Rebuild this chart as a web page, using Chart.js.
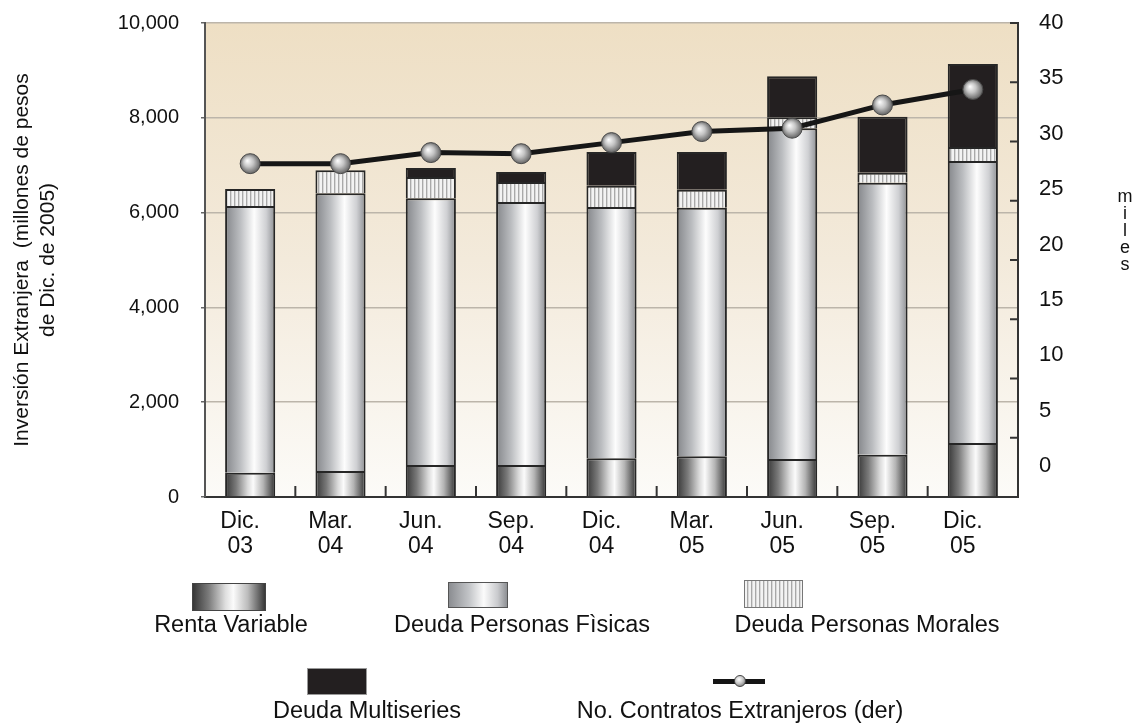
<!DOCTYPE html>
<html lang="es">
<head>
<meta charset="utf-8">
<title>Inversión Extranjera</title>
<script src="https://cdn.jsdelivr.net/npm/chart.js@4.4.1/dist/chart.umd.min.js"></script>
<style>
  html, body { margin: 0; padding: 0; background: #ffffff; }
  #wrap { position: relative; width: 1140px; height: 726px; overflow: hidden;
          font-family: 'Liberation Sans', Arial, sans-serif; color: #111; }
  #chart { position: absolute; left: 0; top: 0; }
  .sw { position: absolute; box-sizing: border-box; }
  .lbl { position: absolute; white-space: nowrap; font-size: 23.5px; line-height: 1;
         transform: translateX(-50%); }
  #miles { position: absolute; left: 1113px; top: 188px; width: 24px; text-align: center;
           font-size: 18px; line-height: 17px; }
</style>
</head>
<body>
<div id="wrap">
  <canvas id="chart" width="1140" height="726"></canvas>

  <!-- leyenda -->
  <div class="sw" style="left:192px;top:583px;width:74px;height:28px;border:1px solid #444;
       background:linear-gradient(to right,#363636 0%,#7c7c7c 22%,#dedede 45%,#fbfbfb 56%,#bcbcbc 76%,#383838 100%);"></div>
  <div class="lbl" style="left:231px;top:613px;">Renta Variable</div>

  <div class="sw" style="left:448px;top:582px;width:60px;height:26px;border:1px solid #555;
       background:linear-gradient(to right,#8b8d91 0%,#c3c5c8 35%,#fbfbfb 60%,#c9cacd 84%,#8e9094 100%);"></div>
  <div class="lbl" style="left:522px;top:613px;">Deuda Personas Fìsicas</div>

  <div class="sw" style="left:744px;top:580px;width:59px;height:28px;border:1px solid #777;
       background:repeating-linear-gradient(to right,#f3f3f3 0 2px,#a8a8a8 2px 3px,#d9d9d9 3px 4px);"></div>
  <div class="lbl" style="left:867px;top:613px;">Deuda Personas Morales</div>

  <div class="sw" style="left:307px;top:668px;width:60px;height:27px;border:1px solid #999;background:#231f20;"></div>
  <div class="lbl" style="left:367px;top:699px;">Deuda Multiseries</div>

  <div class="sw" style="left:713px;top:679px;width:52px;height:5px;background:#151515;"></div>
  <div class="sw" style="left:734px;top:675px;width:12px;height:12px;border-radius:50%;border:1px solid #444;
       background:radial-gradient(circle at 40% 35%,#ffffff 0%,#c6c6c6 45%,#5c5c5c 100%);"></div>
  <div class="lbl" style="left:740px;top:699px;">No. Contratos Extranjeros (der)</div>

  <div id="miles">m<br>i<br>l<br>e<br>s</div>
</div>

<script>
// Periodos trimestrales
const categories = [
  ['Dic.', '03'], ['Mar.', '04'], ['Jun.', '04'], ['Sep.', '04'], ['Dic.', '04'],
  ['Mar.', '05'], ['Jun.', '05'], ['Sep.', '05'], ['Dic.', '05']
];

// Inversión extranjera por instrumento (millones de pesos de Dic. de 2005)
const rentaVariable    = [510, 550, 675, 675, 820, 860, 800, 890, 1140];
const deudaFisicas     = [5630, 5860, 5630, 5550, 5300, 5240, 6980, 5740, 5950];
const deudaMorales     = [360, 485, 445, 420, 445, 380, 230, 210, 295];
const deudaMultiseries = [0, 0, 190, 210, 715, 800, 865, 1180, 1750];

// Número de contratos de extranjeros (miles, eje derecho)
const contratos = [27.3, 27.3, 28.3, 28.2, 29.2, 30.2, 30.5, 32.6, 34.0];

// Marcas de los ejes
const leftTicks  = [0, 2000, 4000, 6000, 8000, 10000];
const rightTicks = [0, 5, 10, 15, 20, 25, 30, 35, 40];
const rightAxisMin = -2.8;

const FONT = "'Liberation Sans', Arial, sans-serif";
const BAR_PCT = 0.555;

// Degradado horizontal tipo cilindro para cada barra
function cylinder(stops, fallback) {
  return function (ctx) {
    const chart = ctx.chart;
    if (!chart.chartArea || ctx.type !== 'data') return fallback;
    const xs = chart.scales.x;
    const cx = xs.getPixelForValue(ctx.dataIndex);
    const w = (xs.width / categories.length) * BAR_PCT;
    const g = chart.ctx.createLinearGradient(cx - w / 2, 0, cx + w / 2, 0);
    stops.forEach(([p, c]) => g.addColorStop(p, c));
    return g;
  };
}

const rvFill = cylinder([[0, '#363636'], [0.22, '#7a7a7a'], [0.45, '#dadada'], [0.56, '#fbfbfb'],
                         [0.76, '#b4b4b4'], [1, '#303030']], '#888');
const dpfFill = cylinder([[0, '#84868a'], [0.3, '#bbbdc0'], [0.58, '#fdfdfd'], [0.82, '#cfd0d3'],
                          [1, '#8c8e92']], '#ccc');

// Rayado vertical para Deuda Personas Morales
function stripes() {
  const c = document.createElement('canvas');
  c.width = 4; c.height = 1;
  const x = c.getContext('2d');
  x.fillStyle = '#f3f3f3'; x.fillRect(0, 0, 2, 1);
  x.fillStyle = '#a9a9a9'; x.fillRect(2, 0, 1, 1);
  x.fillStyle = '#d8d8d8'; x.fillRect(3, 0, 1, 1);
  return x.createPattern(c, 'repeat');
}

// Esferas de los puntos
function sphere(ctx) {
  const chart = ctx.chart;
  if (!chart.chartArea || ctx.type !== 'data') return '#aaa';
  const px = chart.scales.x.getPixelForValue(ctx.dataIndex);
  const py = chart.scales.y1.getPixelForValue(ctx.parsed.y);
  const g = chart.ctx.createRadialGradient(px - 3, py - 3, 0, px, py, 11);
  g.addColorStop(0, '#ffffff');
  g.addColorStop(0.45, '#c4c4c4');
  g.addColorStop(1, '#555555');
  return g;
}

// Fondo del área de trazado
const plotBackground = {
  id: 'plotBackground',
  beforeDraw(chart) {
    const { ctx, chartArea: a } = chart;
    const g = ctx.createLinearGradient(0, a.top, 0, a.bottom);
    g.addColorStop(0, '#eedfc4');
    g.addColorStop(0.5, '#f3eadb');
    g.addColorStop(1, '#fcfbf8');
    ctx.save();
    ctx.fillStyle = g;
    ctx.fillRect(a.left, a.top, a.right - a.left, a.bottom - a.top);
    ctx.restore();
  }
};

// Marcas interiores: separadores de periodos y escala derecha
const innerTicks = {
  id: 'innerTicks',
  afterDraw(chart) {
    const { ctx, chartArea: a, scales: { x } } = chart;
    ctx.save();
    ctx.strokeStyle = '#333';
    ctx.lineWidth = 2;
    ctx.beginPath();
    for (let i = 1; i < categories.length; i++) {
      const bx = (x.getPixelForValue(i - 1) + x.getPixelForValue(i)) / 2;
      ctx.moveTo(bx, a.bottom);
      ctx.lineTo(bx, a.bottom - 11);
    }
    const n = rightTicks.length - 1;
    for (let i = 0; i <= n; i++) {
      const ty = a.top + (a.bottom - a.top) * i / n;
      ctx.moveTo(a.right - 8, ty);
      ctx.lineTo(a.right, ty);
    }
    ctx.stroke();
    ctx.restore();
  }
};

// Ancho fijo de los ejes verticales, sin margen extra arriba/abajo
function fixedWidth(w) {
  return function (s) {
    s.width = w;
    s.paddingTop = 0;
    s.paddingBottom = 0;
  };
}

const barCommon = {
  type: 'bar',
  yAxisID: 'y',
  borderColor: '#262626',
  borderWidth: 2,
  barPercentage: BAR_PCT,
  categoryPercentage: 1,
  order: 1
};

new Chart(document.getElementById('chart'), {
  data: {
    labels: categories,
    datasets: [
      Object.assign({ label: 'Renta Variable', data: rentaVariable, backgroundColor: rvFill }, barCommon),
      Object.assign({ label: 'Deuda Personas Fìsicas', data: deudaFisicas, backgroundColor: dpfFill }, barCommon),
      Object.assign({ label: 'Deuda Personas Morales', data: deudaMorales, backgroundColor: stripes() }, barCommon),
      Object.assign({ label: 'Deuda Multiseries', data: deudaMultiseries, backgroundColor: '#231f20' }, barCommon),
      {
        type: 'line',
        label: 'No. Contratos Extranjeros (der)',
        data: contratos,
        yAxisID: 'y1',
        borderColor: '#161616',
        borderWidth: 5,
        pointRadius: 10,
        pointBorderWidth: 1,
        pointBorderColor: '#4a4a4a',
        pointBackgroundColor: sphere,
        tension: 0,
        order: 0
      }
    ]
  },
  options: {
    responsive: false,
    animation: false,
    events: [],
    layout: { padding: { top: 23, left: 0, right: 0, bottom: 0 } },
    plugins: { legend: { display: false }, tooltip: { enabled: false } },
    scales: {
      x: {
        stacked: true,
        offset: true,
        grid: { display: false, drawTicks: false },
        border: { display: true, color: '#333', width: 2 },
        ticks: {
          color: '#111',
          font: { family: FONT, size: 23, lineHeight: 1.1 },
          padding: 12,
          labelOffset: -10,
          maxRotation: 0,
          autoSkip: false
        },
        afterFit(s) { s.height = 229; }
      },
      y: {
        position: 'left',
        stacked: true,
        min: leftTicks[0],
        max: leftTicks[leftTicks.length - 1],
        afterBuildTicks(a) { a.ticks = leftTicks.map(v => ({ value: v })); },
        ticks: {
          color: '#111',
          font: { family: FONT, size: 20 },
          padding: 22,
          callback: v => v.toLocaleString('en-US')
        },
        grid: { color: '#bcb5aa', lineWidth: 1.5, tickLength: 4, tickColor: '#666' },
        border: { display: true, color: '#555', width: 2 },
        title: {
          display: true,
          text: ['Inversión Extranjera  (millones de pesos', 'de Dic. de 2005)'],
          color: '#111',
          font: { family: FONT, size: 21, lineHeight: 1.2 },
          padding: { top: 10, bottom: 0 }
        },
        afterFit: fixedWidth(205)
      },
      y1: {
        position: 'right',
        min: rightAxisMin,
        max: rightTicks[rightTicks.length - 1],
        afterBuildTicks(a) { a.ticks = rightTicks.map(v => ({ value: v })); },
        grid: { display: false, drawTicks: false },
        border: { display: true, color: '#333', width: 2 },
        ticks: { color: '#111', font: { family: FONT, size: 22 }, padding: 21 },
        afterFit: fixedWidth(122)
      }
    }
  },
  plugins: [plotBackground, innerTicks]
});
</script>
</body>
</html>
